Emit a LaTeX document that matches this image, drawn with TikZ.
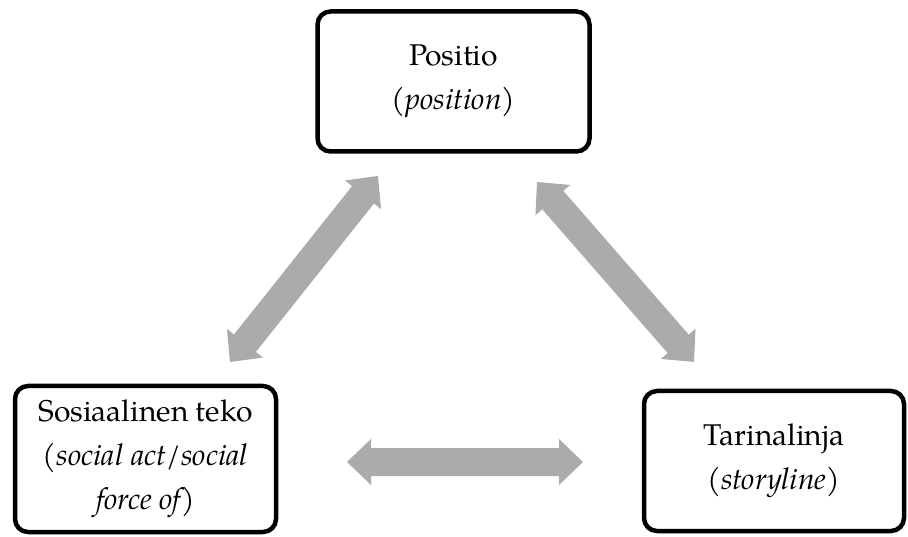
\documentclass[tikz,border=0pt]{standalone}
\usepackage{fontspec}
\setmainfont{texgyrepagella}[Extension=.otf,UprightFont=*-regular,ItalicFont=*-italic,BoldFont=*-bold,BoldItalicFont=*-bolditalic]
\definecolor{arrowgray}{RGB}{171,171,171}
\tikzset{
  box/.style={draw=black, line width=4.5pt, rounded corners=13pt, align=center,
    font=\fontsize{30}{44}\selectfont, inner sep=0pt},
  pics/dblarrow/.style={code={
    \fill[arrowgray] (0,0) -- (24,23) -- (24,14) -- (#1-24,14) -- (#1-24,23) -- (#1,0)
      -- (#1-24,-23) -- (#1-24,-14) -- (24,-14) -- (24,-23) -- cycle;}}
}
\begin{document}
\begin{tikzpicture}[x=1pt,y=1pt]
\useasboundingbox (0,0) rectangle (908,536);
\node[box, minimum width=272pt, minimum height=140pt] (pos) at (453.5,454.5)
  {Positio\\({\itshape position})};
\node[box, minimum width=261pt, minimum height=146pt] (act) at (145.5,77)
  {Sosiaalinen teko\\{\itshape (social act/social}\\{\itshape force of})};
\node[box, minimum width=260pt, minimum height=140pt] (story) at (774,75)
  {Tarinalinja\\({\itshape storyline})};
\coordinate (a1) at (230,174);
\coordinate (a2) at (537,354);
\coordinate (a3) at (347,74);
\pic[rotate=51.5] at (a1) {dblarrow=237.7};
\pic[rotate=-48.9] at (a2) {dblarrow=238.8};
\pic at (a3) {dblarrow=236};
\end{tikzpicture}
\end{document}
